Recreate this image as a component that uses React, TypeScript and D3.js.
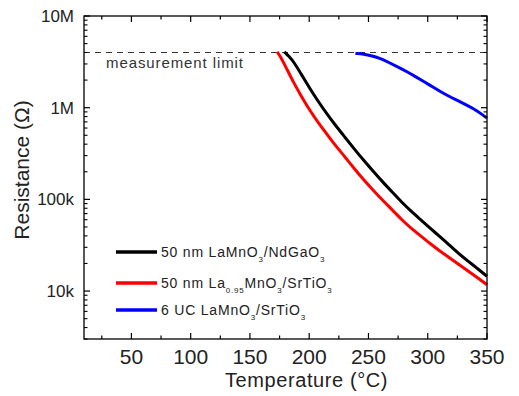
import React from "react";
import * as d3 from "d3";

const W = 519;
const H = 396;
const M = { left: 84, top: 16, right: 487, bottom: 339 };

// Temperature (°C) and resistance (Ω)
const blackT = [179, 183, 187, 194, 201, 208, 215, 222, 230, 238, 246, 254, 262, 270, 278, 286, 294, 302, 310, 318, 326, 334, 342, 350];
const blackR = [4.07e6, 3.63e6, 3.16e6, 2.24e6, 1.58e6, 1.15e6, 8.51e5, 6.46e5, 4.79e5, 3.55e5, 2.66e5, 2.02e5, 1.55e5, 1.2e5, 9.33e4, 7.41e4, 6.0e4, 4.85e4, 3.95e4, 3.2e4, 2.57e4, 2.12e4, 1.76e4, 1.45e4];

const redT = [173, 176, 180, 187, 194, 201, 208, 215, 222, 230, 238, 246, 254, 262, 270, 278, 286, 294, 302, 310, 318, 326, 334, 342, 350];
const redR = [4.07e6, 3.55e6, 2.82e6, 1.86e6, 1.29e6, 9.12e5, 6.76e5, 5.13e5, 3.89e5, 2.93e5, 2.16e5, 1.63e5, 1.26e5, 9.77e4, 7.7e4, 6.0e4, 4.85e4, 4.0e4, 3.3e4, 2.75e4, 2.32e4, 1.96e4, 1.66e4, 1.4e4, 1.17e4];

const blueT = [239, 246, 253, 260, 267, 275, 283, 290, 297, 304, 311, 318, 325, 332, 339, 345, 350];
const blueR = [3.91e6, 3.85e6, 3.67e6, 3.45e6, 3.12e6, 2.77e6, 2.45e6, 2.17e6, 1.92e6, 1.69e6, 1.49e6, 1.33e6, 1.2e6, 1.08e6, 9.7e5, 8.6e5, 7.7e5];

const limitR = 4.0e6;
const xTicks = [50, 100, 150, 200, 250, 300, 350];
const xMinor = [25, 75, 125, 175, 225, 275, 325];
const yTicks = [1e7, 1e6, 1e5, 1e4];
const yTickLabels = ["10M", "1M", "100k", "10k"];

const FONT = "'Liberation Sans', Arial, sans-serif";

export default function App() {
  const x = d3.scaleLinear().domain([10, 350]).range([M.left, M.right]);
  const y = d3.scaleLog().domain([3000, 1e7]).range([M.bottom, M.top]);

  const yMinor: number[] = [];
  for (let e = 3; e < 7; e++) {
    for (let k = 2; k <= 9; k++) {
      const v = k * Math.pow(10, e);
      if (v >= 3000 && v < 1e7) yMinor.push(v);
    }
  }

  const line = d3
    .line<[number, number]>()
    .x((d) => x(d[0]))
    .y((d) => y(d[1]))
    .curve(d3.curveBasis);

  const series = [
    { t: redT, r: redR, color: "#ff0000" },
    { t: blackT, r: blackR, color: "#000000" },
    { t: blueT, r: blueR, color: "#0000ff" },
  ];

  const majorLen = 6;
  const minorLen = 3.5;

  const legendRows = [
    { color: "#000000", y: 252 },
    { color: "#ff0000", y: 283 },
    { color: "#0000ff", y: 310 },
  ];

  const subStyle = { fontSize: 8 };

  return (
    <svg
      width={W}
      height={H}
      style={{ position: "absolute", left: 0, top: 0, background: "#fff" }}
      fontFamily={FONT}
    >
      <rect x={0} y={0} width={W} height={H} fill="#fff" />
      {/* measurement limit */}
      <line
        x1={M.left}
        x2={M.right}
        y1={y(limitR)}
        y2={y(limitR)}
        stroke="#333"
        strokeWidth={1.2}
        strokeDasharray="6,5"
      />
      <text x={106} y={68} fontSize={15} letterSpacing={0.9} fill="#333">
        measurement limit
      </text>

      {/* curves */}
      {series.map((s, i) => (
        <path
          key={i}
          d={line(s.t.map((t, j) => [t, s.r[j]] as [number, number])) || ""}
          fill="none"
          stroke={s.color}
          strokeWidth={3}
          strokeLinejoin="round"
        />
      ))}

      {/* frame */}
      <rect
        x={M.left}
        y={M.top}
        width={M.right - M.left}
        height={M.bottom - M.top}
        fill="none"
        stroke="#000"
        strokeWidth={1.3}
      />

      {/* x ticks */}
      {xTicks.map((t) => (
        <g key={"xt" + t}>
          <line x1={x(t)} x2={x(t)} y1={M.bottom} y2={M.bottom - majorLen} stroke="#000" strokeWidth={1.2} />
          <line x1={x(t)} x2={x(t)} y1={M.top} y2={M.top + majorLen} stroke="#000" strokeWidth={1.2} />
          <text x={x(t)} y={364} fontSize={21} textAnchor="middle" fill="#222">
            {t}
          </text>
        </g>
      ))}
      {xMinor.map((t) => (
        <g key={"xm" + t}>
          <line x1={x(t)} x2={x(t)} y1={M.bottom} y2={M.bottom - minorLen} stroke="#000" strokeWidth={1.2} />
          <line x1={x(t)} x2={x(t)} y1={M.top} y2={M.top + minorLen} stroke="#000" strokeWidth={1.2} />
        </g>
      ))}

      {/* y ticks */}
      {yTicks.map((v, i) => (
        <g key={"yt" + v}>
          <line x1={M.left} x2={M.left + majorLen} y1={y(v)} y2={y(v)} stroke="#000" strokeWidth={1.2} />
          <line x1={M.right} x2={M.right - majorLen} y1={y(v)} y2={y(v)} stroke="#000" strokeWidth={1.2} />
          <text x={74} y={y(v) + 6} fontSize={17} textAnchor="end" fill="#222">
            {yTickLabels[i]}
          </text>
        </g>
      ))}
      {yMinor.map((v) => (
        <g key={"ym" + v}>
          <line x1={M.left} x2={M.left + minorLen} y1={y(v)} y2={y(v)} stroke="#000" strokeWidth={1.1} />
          <line x1={M.right} x2={M.right - minorLen} y1={y(v)} y2={y(v)} stroke="#000" strokeWidth={1.1} />
        </g>
      ))}

      {/* axis titles */}
      <text x={(M.left + M.right) / 2 + 21} y={387} fontSize={20} textAnchor="middle" letterSpacing={0.6} fill="#222">
        Temperature (°C)
      </text>
      <text
        transform={`translate(29, 170) rotate(-90)`}
        fontSize={21}
        textAnchor="middle"
        fill="#222"
      >
        Resistance (Ω)
      </text>

      {/* legend */}
      {legendRows.map((r, i) => (
        <line key={"ll" + i} x1={116} x2={157} y1={r.y} y2={r.y} stroke={r.color} strokeWidth={3.5} />
      ))}
      <text x={161} y={257} fontSize={14} fill="#222" letterSpacing={0.8}>
        50 nm LaMnO<tspan dy={5} style={subStyle}>3</tspan>
        <tspan dy={-5}>/NdGaO</tspan>
        <tspan dy={5} style={subStyle}>3</tspan>
      </text>
      <text x={161} y={288} fontSize={14} fill="#222" letterSpacing={0.8}>
        50 nm La<tspan dy={5} style={subStyle}>0.95</tspan>
        <tspan dy={-5}>MnO</tspan>
        <tspan dy={5} style={subStyle}>3</tspan>
        <tspan dy={-5}>/SrTiO</tspan>
        <tspan dy={5} style={subStyle}>3</tspan>
      </text>
      <text x={161} y={315} fontSize={14} fill="#222" letterSpacing={0.8}>
        6 UC LaMnO<tspan dy={5} style={subStyle}>3</tspan>
        <tspan dy={-5}>/SrTiO</tspan>
        <tspan dy={5} style={subStyle}>3</tspan>
      </text>
    </svg>
  );
}
